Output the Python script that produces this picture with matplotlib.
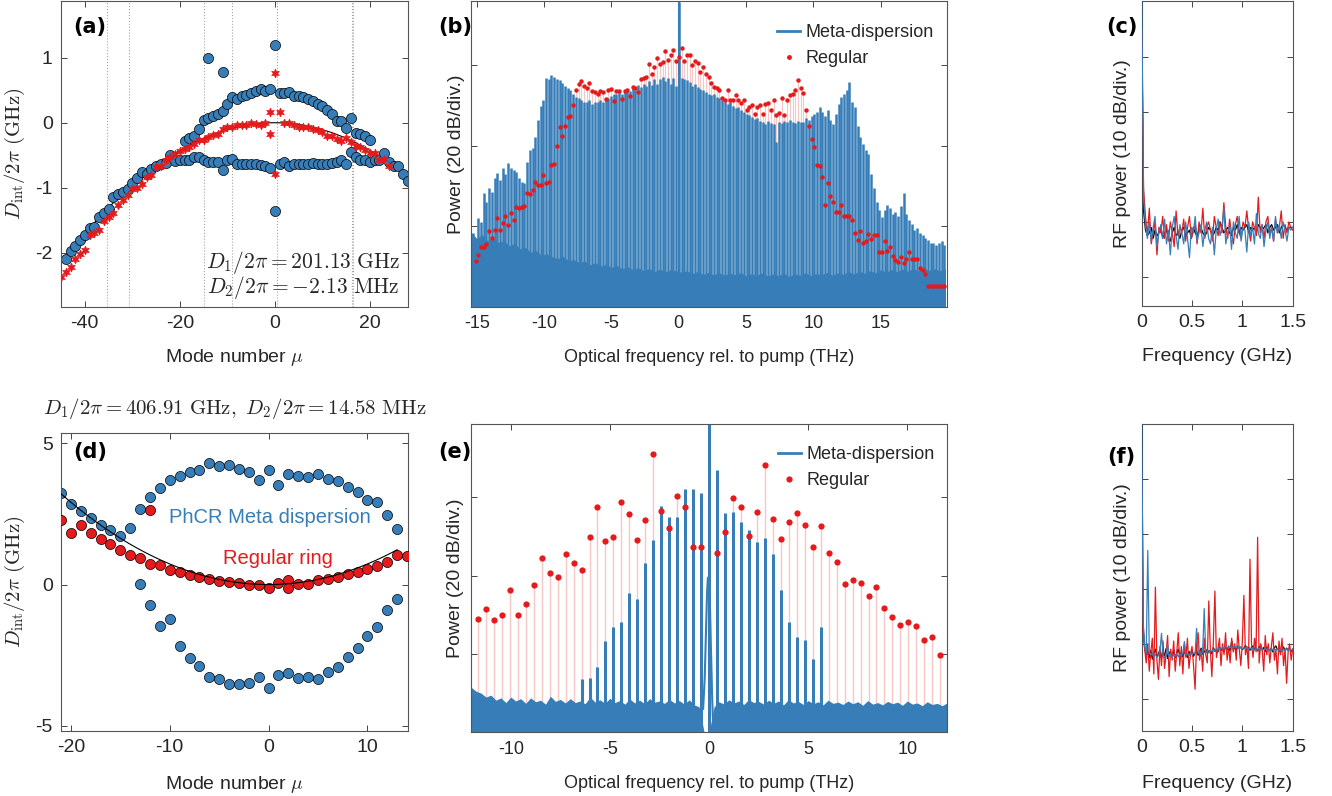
import numpy as np
import matplotlib
matplotlib.use("Agg")
import matplotlib.pyplot as plt

plt.rcParams["font.family"] = ["Liberation Sans", "DejaVu Sans"]
plt.rcParams["mathtext.fontset"] = "cm"
plt.rcParams["axes.unicode_minus"] = False
plt.rcParams["text.color"] = "#262626"

BLUE = "#377EB8"
RED = "#E41A1C"
PINK = "#F7C6C6"
GREY = "#262626"

# ---------------- panel (a): integrated dispersion, 201 GHz ring ----------------
D2_a = -2.13e-3          # GHz
mu_a_main = np.arange(-44, -21)
dint_a_main = [-2.10, -1.97, -1.89, -1.80, -1.72, -1.62, -1.60, -1.45, -1.39, -1.32, -1.14, -1.10,
               -1.07, -1.02, -0.92, -0.85, -0.76, -0.78, -0.71, -0.67, -0.63, -0.62, -0.49]
mu_a_up = list(range(-19, 0)) + list(range(1, 21))
dint_a_up = [-0.28, -0.24, -0.20, -0.09, 0.04, 0.07, 0.10, 0.14, 0.18, 0.29, 0.39, 0.37, 0.41,
             0.43, 0.46, 0.48, 0.52, 0.49, 0.52,
             0.46, 0.45, 0.47, 0.41, 0.41, 0.39, 0.36, 0.33, 0.29, 0.25, 0.20, 0.14, 0.03, 0.03,
             -0.08, 0.07, -0.16, -0.18, -0.20, -0.27]
mu_a_low = list(range(-21, 0)) + list(range(1, 16))
dint_a_low = [-0.59, -0.58, -0.58, -0.57, -0.53, -0.52, -0.57, -0.60, -0.60, -0.60, -0.72, -0.58,
              -0.55, -0.63, -0.64, -0.63, -0.63, -0.64, -0.65, -0.66, -0.69,
              -0.63, -0.61, -0.66, -0.64, -0.64, -0.64, -0.63, -0.62, -0.63, -0.63, -0.63, -0.62,
              -0.60, -0.58, -0.63]
mu_a_tail = np.arange(16, 29)
dint_a_tail = [-0.45, -0.52, -0.57, -0.57, -0.60, -0.57, -0.58, -0.47, -0.60, -0.66, -0.67, -0.78, -0.90]
mu_a_out = [-14, -11, 0, 0]
dint_a_out = [1.00, 0.78, 1.19, -1.36]

mu_a_red = list(range(-45, -1)) + [-1, -1, 0, 0, 1] + list(range(2, 25))
dint_a_red = [-2.37, -2.29, -2.21, -2.09, -2.02, -1.95, -1.73, -1.70, -1.64, -1.51, -1.45, -1.38,
              -1.26, -1.18, -1.11, -1.02, -1.00, -0.94, -0.84, -0.80, -0.68, -0.66, -0.58, -0.52,
              -0.48, -0.44, -0.40, -0.37, -0.33, -0.27, -0.26, -0.22, -0.19, -0.17, -0.10, -0.06,
              -0.07, -0.04, -0.04, -0.04, 0.00, -0.02, -0.03, -0.01,
              0.17, -0.18, 0.77, -0.78, 0.16,
              0.00, -0.01, -0.03, -0.06, -0.07, -0.06, -0.10, -0.11, -0.15, -0.21, -0.21, -0.25,
              -0.28, -0.23, -0.30, -0.35, -0.38, -0.42, -0.46, -0.46, -0.57, -0.56, -0.66]
avoided_mu_a = [-35.4, -30.6, -14.9, -9.1, 0.5, 16.2, 16.5]

# ---------------- panel (d): integrated dispersion, 407 GHz ring ----------------
D2_d = 14.58e-3
mu_d_up = np.arange(-21, 14)
dint_d_up = [3.25, 2.87, 2.62, 2.36, 2.10, 1.95, 1.71, 2.01, 2.69, 3.11, 3.42, 3.72, 3.84, 3.99,
             4.05, 4.29, 4.19, 4.23, 4.11, 3.99, 3.72, 4.06, 3.54, 3.90, 3.84, 3.81, 3.93, 3.75,
             3.66, 3.46, 3.28, 3.01, 2.93, 2.46, 1.98]
mu_d_low = np.arange(-13, 14)
dint_d_low = [0.02, -0.71, -1.48, -1.22, -2.18, -2.60, -2.87, -3.28, -3.34, -3.51, -3.54, -3.48,
              -3.27, -3.66, -3.21, -3.13, -3.31, -3.28, -3.33, -3.09, -2.93, -2.56, -2.24, -1.81,
              -1.50, -0.91, -0.53]
mu_d_red = list(range(-21, 15)) + [-12, 2]
dint_d_red = [2.28, 1.83, 2.10, 1.83, 1.63, 1.44, 1.24, 1.06, 0.94, 0.73, 0.68, 0.53, 0.45, 0.33,
              0.27, 0.18, 0.14, 0.09, 0.04, 0.00, 0.00, -0.12, 0.06, 0.15, 0.02, 0.02, 0.15, 0.21,
              0.27, 0.38, 0.44, 0.55, 0.65, 0.80, 1.04, 1.00, 2.63, -0.12]

# ---------------- panel (b): optical spectra, 201 GHz comb (dB above floor) ----------------
FSR_b = 0.20113  # THz
meta_b_first = -76
meta_b = [18.3, 17.0, 22.0, 21.0, 28.2, 26.0, 29.5, 28.5, 32.0, 33.2, 31.5, 34.4, 33.0, 35.8, 34.5,
          33.9, 33.5, 32.0, 31.0, 30.7, 36.0, 38.9, 39.5, 42.2, 46.5, 49.8, 51.5,
          56.9, 56.5, 57.5, 57.0, 56.6, 56.3, 55.6, 55.0, 54.5, 53.8, 53.0, 52.1, 51.8, 51.3, 51.0,
          50.9, 51.5, 50.5, 51.0, 50.9, 51.3, 50.8, 51.6, 52.0, 52.5, 53.0, 52.8, 53.4, 53.0, 53.4,
          54.0, 53.6, 54.6, 53.8, 55.2, 54.6, 55.5, 54.8, 56.0, 55.2, 56.7, 55.5, 56.5, 57.1, 56.0,
          56.8, 55.5, 56.8, 55.0,
          75.7,
          56.9, 56.5, 56.3, 55.8, 55.0, 55.3, 54.6, 54.2, 53.8, 53.5, 53.0, 52.6, 52.8, 52.1, 51.8,
          51.5, 51.0, 50.5, 50.8, 50.0, 49.5, 49.7, 48.8, 48.5, 48.0, 47.8, 47.2, 46.8, 47.0, 46.3,
          46.0, 45.5, 46.2, 45.8, 45.5, 41.0, 46.0, 45.8, 46.2, 46.0, 46.4, 46.0, 45.6, 46.2, 46.0,
          46.0, 47.0, 46.5, 47.5, 48.0, 48.5, 49.7, 48.5, 47.5, 48.8, 46.5, 45.5, 48.0, 50.5, 52.1,
          53.0, 54.0, 55.9, 51.0, 49.7, 45.0, 42.2, 40.5, 39.0, 38.1, 33.0, 29.5, 26.0, 24.0, 22.4,
          24.0, 25.3, 24.5, 23.0, 23.7, 22.5, 25.0, 28.2, 23.0, 21.6, 20.5, 19.1, 19.5, 18.3, 18.0,
          17.2, 16.7, 16.0, 15.8, 15.4, 16.0, 16.3, 15.5]
regular_b_first = -75
regular_b = [11.5, 13.0, 14.9, 15.0, 15.7, 19.0, 17.2, 19.1, 22.0, 19.1, 20.8, 22.6, 20.4, 23.4,
             21.6, 24.8, 24.5, 24.9, 25.1, 28.2, 28.1, 29.0, 31.1, 30.3, 30.3, 32.8, 30.7, 31.1,
             35.2, 35.6, 40.0, 44.6, 42.5, 45.0, 47.2, 47.4, 50.1, 53.9, 55.4, 56.1, 54.8, 54.5,
             55.6, 53.6, 53.4, 52.8, 53.6, 53.4, 51.7, 53.8, 54.2, 51.2, 53.6, 53.6, 51.7, 53.6,
             53.8, 52.3, 54.6, 54.5, 53.4, 56.5, 56.8, 57.1, 60.4, 57.9, 59.6, 61.9, 60.4, 60.8,
             63.5, 61.4, 62.5, 63.9, 61.0,
             62.0,
             64.4, 61.2, 62.7, 62.7, 60.2, 61.2, 60.6, 58.3, 59.6, 57.9, 57.0, 55.6, 54.6, 54.5,
             53.8, 52.0, 51.5, 53.8, 51.5, 51.5, 52.6, 51.3, 50.7, 51.5, 48.8, 49.7, 50.1, 47.9,
             49.7, 50.1, 47.9, 50.3, 50.7, 49.0, 51.5, 47.6, 48.2, 51.9, 47.6, 51.3, 52.6, 53.0,
             53.8, 56.3, 54.5, 53.1, 49.0, 44.9, 41.8, 39.8, 35.2, 35.0, 32.3, 25.3, 30.7, 27.6,
             26.2, 23.7, 23.7, 25.3, 22.6, 22.6, 22.6, 21.6, 18.5, 16.7, 19.0, 16.0, 16.5, 18.1,
             16.8, 17.9, 17.9, 13.6, 13.6, 16.3, 14.0, 15.0, 12.7, 11.7, 11.3, 12.5, 10.9, 11.9,
             13.6, 11.9, 11.9, 11.9, 9.7, 9.1, 8.3, 5.1, 5.1, 5.1, 5.1, 5.1, 5.1, 5.1]
floor_b_span = (-15.4, 19.8)
floor_b = [18.5, 17.0, 18.0, 16.5, 17.2, 16.0, 16.5, 15.2, 15.8, 14.5, 14.8, 13.6, 14.0, 12.8, 13.2,
           12.5, 12.0, 12.6, 11.5, 11.8, 11.0, 11.4, 10.5, 11.0, 10.2, 10.6, 9.8, 10.3, 9.5, 10.0,
           9.3, 9.8, 9.0, 9.6, 8.8, 9.4, 8.7, 9.2, 9.0, 8.6, 9.0, 8.3, 8.8, 8.1, 8.6, 8.0, 8.5,
           7.9, 8.4, 8.0, 8.6, 7.8, 8.3, 7.9, 8.5, 7.7, 8.2, 7.8, 8.4, 7.6, 8.2, 7.9, 8.5, 7.8, 8.3,
           8.0, 8.6, 7.9, 8.5, 8.1, 8.8, 8.2, 8.9, 8.4, 9.0, 8.5, 9.2, 8.7, 9.3, 8.8, 9.4, 8.9, 9.5,
           9.0, 9.6, 9.1, 9.5, 9.0, 9.4]
pump_gap_b = (-0.08, 0.08, 24.0)   # THz, THz, dB: clear region around the pump

# ---------------- panel (e): optical spectra, 402 GHz comb ----------------
FSR_e = 0.402  # THz
meta_e_first = -16
meta_e = [13.6, 13.8, 16.6, 23.4, 26.8, 28.1, 35.6, 34.1, 43.2, 49.0, 57.7, 54.9, 55.0, 62.1, 62.2,
          61.0, 78.8, 67.0, 55.9, 56.2, 53.6, 51.7, 48.6, 49.5, 45.4, 36.3, 28.2, 24.4, 23.5, 18.6,
          26.9]
regular_e_first = -29
regular_e = [28.8, 31.5, 28.6, 30.0, 36.2, 30.0, 32.8, 37.5, 44.4, 40.6, 39.7, 45.6, 43.3, 41.4,
             49.9, 57.4, 48.9, 49.8, 58.8, 55.8, 49.1, 54.1, 71.0, 56.4, 52.1, 60.4, 57.6, 47.4,
             47.2,
             np.nan,
             45.7, 51.1, 59.7, 57.4, 50.1, 56.2, 68.3, 54.5, 49.3, 53.8, 56.1, 53.0, 47.4, 52.6,
             45.8, 43.4, 37.9, 38.8, 38.1, 34.9, 37.1, 31.7, 29.4, 27.4, 28.1, 27.1, 23.5, 24.4,
             19.8]
floor_e_span = (-12.0, 12.0)
floor_e = [11.5, 10.5, 10.0, 9.0, 9.5, 8.2, 8.8, 7.6, 9.0, 8.0, 8.6, 7.4, 8.8, 7.8, 8.2, 7.2, 9.2,
           7.9, 8.4, 7.5, 8.6, 7.6, 8.0, 7.3, 9.0, 7.7, 8.3, 7.4, 8.7, 7.6, 8.1, 7.2, 8.5, 7.5, 8.2,
           7.3, 8.6, 7.7, 8.0, 7.4, 8.4, 7.5, 8.1, 7.2, 8.3, 7.0, 6.5, 0.0, 0.0,
           6.5, 7.8, 7.2, 8.3, 7.5, 8.0, 7.1, 8.4, 7.6, 7.9, 7.2, 8.2, 7.4, 8.0, 7.0, 8.3, 7.5, 7.9,
           7.1, 8.1, 7.3, 7.8, 7.0, 8.2, 7.4, 7.7, 7.1, 8.0, 7.3, 7.8, 6.9, 8.1, 7.2, 7.6, 7.0, 7.9,
           7.3, 7.7, 6.9, 8.0, 7.2, 7.5, 6.8, 7.8, 7.1, 7.4, 6.8, 7.5]
pump_e_f = [-0.30, -0.22, -0.15, -0.10, -0.06, -0.02, 0.04, 0.10, 0.16, 0.22]
pump_e_db = [6.0, 14.0, 27.0, 36.0, 39.5, 39.0, 33.0, 20.0, 8.0, 0.0]

# ---------------- panels (c), (f): RF spectra (dB, 0-1.5 GHz) ----------------
rf_c_black = [50, 12, 8.5, 7.5, 8, 9, 7, 8.5, 7.5, 8, 9, 7, 8, 8.5, 7, 6.5, 8, 9, 7.5, 8,
              7, 8.5, 9, 7.5, 8, 8.5, 7, 9, 8, 7.5, 8.5, 9, 8, 7.5, 8, 9, 8.5, 7.5, 8, 9,
              8.5, 10, 9, 8, 8.5, 9, 8, 7.5, 9, 8.5, 9.5, 8, 9, 8.5, 9, 9.5, 8, 9, 8.5, 9,
              8, 9.5, 9, 8.5, 9, 9.5, 8, 9, 9.5, 8.5, 9, 9.5, 8, 9, 9.5, 9, 8.5, 9, 9, 9]
rf_c_red = [45, 16, 11, 7.5, 12.5, 6, 8, 10, 4, 9, 8, 11, 7, 9.5, 6.5, 10, 8, 5.5, 12, 7.5,
            9, 8, 10.5, 6.5, 9, 11, 7, 8.5, 9.5, 6, 10, 8, 12.5, 7, 9, 10, 8.5, 6.5, 11, 9,
            7.5, 10, 8, 13.5, 9, 7, 10.5, 8, 6, 9.5, 11, 8, 7, 10, 9, 12, 8.5, 6.5, 10, 9,
            7.5, 14.5, 8, 9.5, 7, 10, 11, 8, 9, 6.5, 10.5, 8, 9, 12, 7, 9.5, 8, 10, 9, 8.5]
rf_c_blue = [52, 14, 9.5, 7, 10, 6.5, 9, 11, 5.5, 8, 9.5, 7, 10.5, 6, 8.5, 4, 9, 11, 7.5, 5,
             9.5, 8, 6, 10, 7, 3.5, 9, 8, 11, 6.5, 8, 9.5, 5.5, 8.5, 10, 7, 6, 9, 4, 8.5,
             10.5, 7.5, 9, 12.5, 6, 8, 9.5, 5, 10, 8, 7, 11, 6.5, 9, 8.5, 4.5, 10, 7.5, 9, 6,
             11.5, 8, 7, 9.5, 5.5, 8.5, 10, 7, 9, 6.5, 11, 8, 9.5, 7, 10, 8.5, 6.5, 9, 8.5, 9]
rf_f_black = [52, 13, 9, 8, 8.5, 7.5, 8.8, 7.2, 8.4, 9.0, 7.6, 8.2, 8.9, 7.4, 8.6, 7.8, 9.1, 7.3,
              8.5, 8.0, 7.7, 8.8, 7.5, 8.3, 9.0, 7.9, 8.4, 7.6, 8.7, 8.1, 7.5, 8.6, 8.0, 8.9, 7.7,
              8.3, 8.8, 7.9, 8.5, 9.2, 8.1, 8.7, 8.3, 9.0, 8.4, 8.8, 8.2, 9.3, 8.6, 9.0, 8.5, 9.4,
              8.8, 9.1, 8.6, 9.5, 8.9, 9.2, 8.7, 10.5, 9.0, 9.3, 8.8, 9.6, 9.1, 9.4, 8.9, 9.2, 9.7,
              9.0, 9.4, 8.8, 9.3, 9.6, 9.0, 9.2, 8.7, 9.5, 9.1, 8.9, 9.3, 8.6, 9.4, 9.0, 8.8, 9.2,
              8.5, 9.3, 9.6, 8.9, 9.1, 8.4, 9.0, 9.4, 8.7, 9.2, 8.8, 9.1, 8.6, 9.0]
rf_f_red = [40, 12, 9, 6.5, 10, 5, 8.5, 11, 4.5, 20.3, 7, 3.5, 9.5, 6, 10.5, 5.5, 8, 11.5, 4.0, 9,
            7, 10.5, 5, 8.5, 12, 6, 9.5, 4.5, 10, 7.5, 11, 5.5, 8, 9.5, 6, 1.7, 10, 12, 7, 9,
            5, 11, 8, 6.5, 17.8, 9, 4, 10.5, 19.6, 7.5, 9, 11, 6, 10, 8, 12, 7, 9.5, 6.5, 11,
            8.5, 10, 7, 12.5, 9, 6, 10.5, 18.8, 8, 9.5, 5.5, 25.4, 10, 7.5, 11, 8.5, 29.4, 6.5, 10, 9,
            5, 11.5, 8, 10, 6.5, 9.5, 12, 7, 9, 4.5, 10.5, 8, 11, 6, 9, 2.8, 8.5, 10, 7, 9]
rf_f_blue = [52, 14, 9.5, 8.2, 27.0, 8.5, 7.9, 8.3, 7.6, 8.0, 7.5, 7.9, 8.6, 11.9, 8.0, 7.4, 7.8,
             9.8, 7.6, 8.1, 7.5, 8.0, 7.7, 8.2, 7.6, 8.1, 7.8, 8.3, 10.4, 7.9, 8.2, 7.7, 8.4, 8.0,
             8.3, 8.1, 12.8, 8.2, 8.5, 8.0, 8.6, 16.4, 8.4, 8.7, 8.3, 8.8, 8.6, 9.0, 8.7, 9.1, 8.8,
             9.2, 9.0, 9.4, 9.1, 9.5, 9.2, 9.6, 9.3, 9.5, 9.2, 9.6, 9.3, 9.5, 9.1, 9.4, 9.0, 9.3,
             9.1, 9.4, 8.9, 9.2, 9.0, 9.3, 8.8, 9.1, 8.9, 9.2, 8.8, 9.1, 8.9, 9.2, 8.8, 9.0, 8.7,
             9.1, 8.8, 9.0, 8.7, 9.1, 8.8, 9.0, 8.6, 9.0, 8.8, 9.1, 8.7, 9.0, 8.8, 9.0]


def matlab_axes(ax, fs):
    ax.tick_params(direction="in", top=True, right=True, length=4, width=0.6,
                   labelsize=fs, colors=GREY, pad=6)
    for s in ax.spines.values():
        s.set_color("#555555")
        s.set_linewidth(0.8)


def panel_label(ax, text, x, y):
    ax.text(x, y, text, transform=ax.transAxes, ha="center", va="center",
            fontsize=15, fontweight="bold", family="DejaVu Sans", color="black")


fig = plt.figure(figsize=(13.32, 7.96), dpi=100)
ax_a = fig.add_axes([0.0458, 0.6143, 0.2605, 0.3845])
ax_b = fig.add_axes([0.3534, 0.6143, 0.3574, 0.3845])
ax_c = fig.add_axes([0.8571, 0.6156, 0.1134, 0.3832])
ax_d = fig.add_axes([0.0458, 0.0820, 0.2605, 0.3744])
ax_e = fig.add_axes([0.3534, 0.0800, 0.3579, 0.3869])
ax_f = fig.add_axes([0.8571, 0.0817, 0.1134, 0.3853])

# (a)
mu_fit = np.linspace(-45, 28, 300)
for m in avoided_mu_a:
    ax_a.axvline(m, color="0.65", ls=":", lw=0.8, zorder=0)
ax_a.plot(mu_fit, D2_a / 2 * mu_fit ** 2, color="black", lw=0.8, zorder=1)
mu_blue = np.concatenate([mu_a_main, mu_a_up, mu_a_low, mu_a_tail, mu_a_out])
d_blue = np.concatenate([dint_a_main, dint_a_up, dint_a_low, dint_a_tail, dint_a_out])
ax_a.plot(mu_blue, d_blue, "o", ms=7.3, mfc=BLUE, mec="black", mew=0.5, zorder=2)
ax_a.plot(mu_a_red, dint_a_red, ls="none", marker=(6, 1, 0), ms=6.5, color=RED, mec=RED,
          mew=0.4, zorder=3)
ax_a.set_xlim(-45, 28)
ax_a.set_ylim(-2.83, 1.87)
ax_a.set_xticks([-40, -20, 0, 20])
ax_a.set_yticks([-2, -1, 0, 1])
matlab_axes(ax_a, 14)
ax_a.set_xlabel(r"Mode number $\mu$", fontsize=14, color=GREY)
ax_a.set_ylabel(r"$D_{\mathrm{int}}/2\pi\ (\mathrm{GHz})$", fontsize=15, color=GREY)
ax_a.xaxis.set_label_coords(0.5, -0.13)
ax_a.yaxis.set_label_coords(-0.098, 0.5)
ax_a.text(0.977, 0.147, r"$D_1/2\pi = 201.13\ \mathrm{GHz}$", transform=ax_a.transAxes,
          ha="right", va="center", fontsize=15.5)
ax_a.text(0.977, 0.065, r"$D_2/2\pi = -2.13\ \mathrm{MHz}$", transform=ax_a.transAxes,
          ha="right", va="center", fontsize=15.5)
panel_label(ax_a, "(a)", 0.084, 0.915)

# (b)
f_meta_b = (meta_b_first + np.arange(len(meta_b))) * FSR_b
f_reg_b = (regular_b_first + np.arange(len(regular_b))) * FSR_b
f_floor_b = np.linspace(floor_b_span[0], floor_b_span[1], len(floor_b))
ax_b.vlines(f_reg_b, 0, regular_b, color=PINK, lw=0.8, zorder=1)
ax_b.vlines(f_meta_b, 0, meta_b, color=BLUE, lw=1.8, zorder=2)
ax_b.fill_between(f_floor_b, 0, floor_b, color=BLUE, lw=0, zorder=2.5)
ax_b.fill_between([pump_gap_b[0], pump_gap_b[1]], 0, pump_gap_b[2], color="white", lw=0, zorder=2.6)
i0 = -meta_b_first
ax_b.vlines(f_meta_b[i0], 0, meta_b[i0], color=BLUE, lw=1.5, zorder=2.7)
ax_b.plot(f_reg_b, regular_b, "o", ms=3.2, color=RED, mew=0, zorder=4)
ax_b.plot([], [], color=BLUE, lw=2, label="Meta-dispersion")
ax_b.plot([], [], "o", ms=3.5, color=RED, mew=0, label="Regular")
ax_b.set_xlim(-15.45, 19.9)
ax_b.set_ylim(0, 76)
ax_b.set_xticks([-15, -10, -5, 0, 5, 10, 15])
ax_b.set_xticklabels(["-15", "-10", "-5", "0", "5", "10", "15"])
ax_b.set_yticks([20, 40, 60])
ax_b.set_yticklabels([])
matlab_axes(ax_b, 13)
ax_b.set_xlabel("Optical frequency rel. to pump (THz)", fontsize=13, color=GREY)
ax_b.set_ylabel("Power (20 dB/div.)", fontsize=14, color=GREY)
ax_b.xaxis.set_label_coords(0.5, -0.138)
ax_b.yaxis.set_label_coords(-0.012, 0.5)
ax_b.legend(loc="upper right", bbox_to_anchor=(1.0, 0.965), frameon=False, fontsize=13,
            handlelength=1.3, handletextpad=0.3, labelspacing=0.5, borderaxespad=0.3)
panel_label(ax_b, "(b)", -0.033, 0.915)

# (c)
for trace, col in [(rf_c_black, "black"), (rf_c_red, RED), (rf_c_blue, BLUE)]:
    ax_c.plot(np.linspace(0, 1.5, len(trace)), trace, color=col, lw=0.9, zorder=3)
ax_c.set_xlim(0, 1.5)
ax_c.set_ylim(-5.3, 50.2)
ax_c.set_xticks([0, 0.5, 1, 1.5])
ax_c.set_xticklabels(["0", "0.5", "1", "1.5"])
ax_c.set_yticks([0, 10, 20, 30, 40])
ax_c.set_yticklabels([])
matlab_axes(ax_c, 14)
ax_c.set_xlabel("Frequency (GHz)", fontsize=14, color=GREY)
ax_c.set_ylabel("RF power (10 dB/div.)", fontsize=14, color=GREY)
ax_c.xaxis.set_label_coords(0.5, -0.138)
ax_c.yaxis.set_label_coords(-0.071, 0.5)
panel_label(ax_c, "(c)", -0.13, 0.915)

# (d)
mu_fit_d = np.linspace(-21, 13, 200)
ax_d.plot(mu_d_up, dint_d_up, "o", ms=7.3, mfc=BLUE, mec="black", mew=0.5, zorder=2)
ax_d.plot(mu_d_low, dint_d_low, "o", ms=7.3, mfc=BLUE, mec="black", mew=0.5, zorder=2)
ax_d.plot(mu_d_red, dint_d_red, "o", ms=7.3, mfc=RED, mec="black", mew=0.5, zorder=3)
ax_d.plot(mu_fit_d, D2_d / 2 * mu_fit_d ** 2, color="black", lw=0.8, zorder=4)
ax_d.set_xlim(-21, 14.1)
ax_d.set_ylim(-5.18, 5.38)
ax_d.set_xticks([-20, -10, 0, 10])
ax_d.set_yticks([-5, 0, 5])
matlab_axes(ax_d, 14)
ax_d.set_xlabel(r"Mode number $\mu$", fontsize=14, color=GREY)
ax_d.set_ylabel(r"$D_{\mathrm{int}}/2\pi\ (\mathrm{GHz})$", fontsize=15, color=GREY)
ax_d.xaxis.set_label_coords(0.5, -0.145)
ax_d.yaxis.set_label_coords(-0.098, 0.5)
ax_d.text(0.5, 1.08, r"$D_1/2\pi = 406.91\ \mathrm{GHz},\ D_2/2\pi = 14.58\ \mathrm{MHz}$",
          transform=ax_d.transAxes, ha="center", va="center", fontsize=15)
ax_d.text(0.602, 0.717, "PhCR Meta dispersion", transform=ax_d.transAxes, ha="center",
          va="center", fontsize=14.5, color=BLUE)
ax_d.text(0.624, 0.579, "Regular ring", transform=ax_d.transAxes, ha="center",
          va="center", fontsize=14.5, color=RED)
panel_label(ax_d, "(d)", 0.084, 0.935)

# (e)
f_meta_e = (meta_e_first + np.arange(len(meta_e))) * FSR_e
f_reg_e = (regular_e_first + np.arange(len(regular_e))) * FSR_e
f_floor_e = np.linspace(floor_e_span[0], floor_e_span[1], len(floor_e))
reg_e_arr = np.array(regular_e, dtype=float)
ok = ~np.isnan(reg_e_arr)
ax_e.vlines(f_reg_e[ok], 0, reg_e_arr[ok], color=PINK, lw=1.0, zorder=1)
ax_e.fill_between(f_floor_e, 0, floor_e, color=BLUE, lw=0, zorder=2)
ax_e.vlines(f_meta_e, 0, meta_e, color=BLUE, lw=2.2, zorder=2.5)
ax_e.plot(pump_e_f, pump_e_db, color=BLUE, lw=1.5, zorder=2.5)
ax_e.plot(f_reg_e, reg_e_arr, "o", ms=4.5, color=RED, mew=0, zorder=4)
ax_e.plot([], [], color=BLUE, lw=2, label="Meta-dispersion")
ax_e.plot([], [], "o", ms=4.5, color=RED, mew=0, label="Regular")
ax_e.set_xlim(-12.02, 12.02)
ax_e.set_ylim(0, 78.6)
ax_e.set_xticks([-10, -5, 0, 5, 10])
ax_e.set_xticklabels(["-10", "-5", "0", "5", "10"])
ax_e.set_yticks([20, 40, 60])
ax_e.set_yticklabels([])
matlab_axes(ax_e, 13)
ax_e.set_xlabel("Optical frequency rel. to pump (THz)", fontsize=13, color=GREY)
ax_e.set_ylabel("Power (20 dB/div.)", fontsize=14, color=GREY)
ax_e.xaxis.set_label_coords(0.5, -0.137)
ax_e.yaxis.set_label_coords(-0.014, 0.5)
ax_e.legend(loc="upper right", bbox_to_anchor=(1.0, 0.97), frameon=False, fontsize=13,
            handlelength=1.3, handletextpad=0.3, labelspacing=0.5, borderaxespad=0.3)
panel_label(ax_e, "(e)", -0.033, 0.91)

# (f)
for trace, col in [(rf_f_black, "black"), (rf_f_red, RED), (rf_f_blue, BLUE)]:
    ax_f.plot(np.linspace(0, 1.5, len(trace)), trace, color=col, lw=0.9, zorder=3)
ax_f.set_xlim(0, 1.5)
ax_f.set_ylim(-5.9, 50.0)
ax_f.set_xticks([0, 0.5, 1, 1.5])
ax_f.set_xticklabels(["0", "0.5", "1", "1.5"])
ax_f.set_yticks([0, 10, 20, 30, 40])
ax_f.set_yticklabels([])
matlab_axes(ax_f, 14)
ax_f.set_xlabel("Frequency (GHz)", fontsize=14, color=GREY)
ax_f.set_ylabel("RF power (10 dB/div.)", fontsize=14, color=GREY)
ax_f.xaxis.set_label_coords(0.5, -0.145)
ax_f.yaxis.set_label_coords(-0.071, 0.5)
panel_label(ax_f, "(f)", -0.136, 0.893)

fig.savefig("out.png", dpi=100)
